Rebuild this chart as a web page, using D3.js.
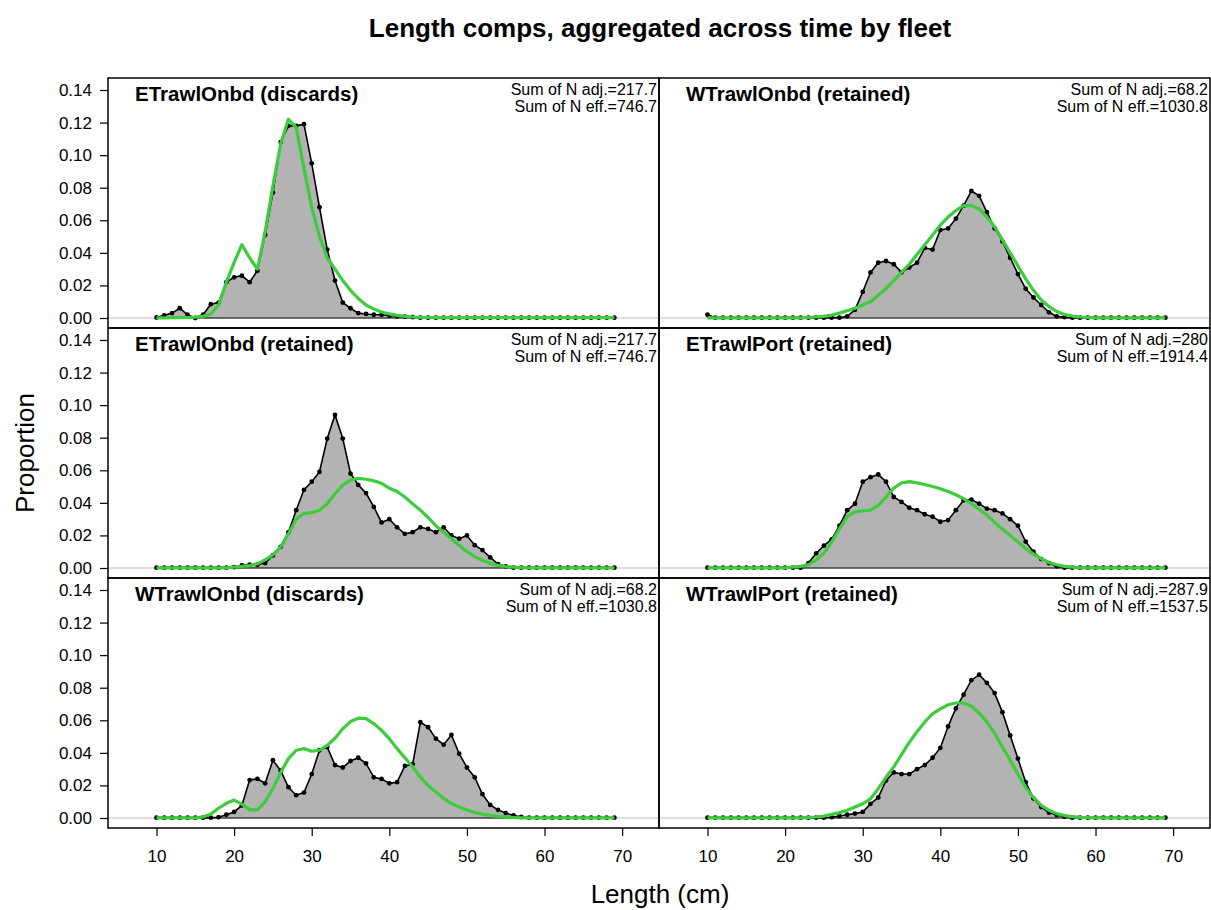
<!DOCTYPE html>
<html><head><meta charset="utf-8">
<script src="https://cdn.jsdelivr.net/npm/d3@7"></script>
<style>
body{margin:0;background:#fff;}
text{font-family:"Liberation Sans",Arial,sans-serif;fill:#000;}
</style></head>
<body>
<svg id="chart" width="1211" height="910"></svg>
<script>
const lengths = [10,11,12,13,14,15,16,17,18,19,20,21,22,23,24,25,26,27,28,29,30,31,32,33,34,35,36,37,38,39,40,41,42,43,44,45,46,47,48,49,50,51,52,53,54,55,56,57,58,59,60,61,62,63,64,65,66,67,68,69];
const xTicks = [10,20,30,40,50,60,70];
const yTicks = [0,0.02,0.04,0.06,0.08,0.10,0.12,0.14];
const fleets = ["ETrawlOnbd (discards)","WTrawlOnbd (retained)","ETrawlOnbd (retained)","ETrawlPort (retained)","WTrawlOnbd (discards)","WTrawlPort (retained)"];
const nAdj = ["217.7","68.2","217.7","280","68.2","287.9"];
const nEff = ["746.7","1030.8","746.7","1914.4","1030.8","1537.5"];

const obsETrawlOnbdDisc = [0.0003,0.0016,0.003,0.006,0.002,0.0,0.002,0.0085,0.0095,0.022,0.025,0.026,0.022,0.029,0.051,0.077,0.108,0.118,0.118,0.119,0.095,0.068,0.042,0.023,0.0095,0.006,0.003,0.0025,0.002,0.002,0.0015,0.001,0.0008,0.0005,
0.0002,0.0002,0.0002,0.0002,0.0002,0.0002,0.0002,0.0002,0.0002,0.0002,0.0002,0.0002,0.0002,0.0002,0.0002,0.0002,0.0002,0.0002,0.0002,0.0002,0.0002,0.0002,0.0002,0.0002,0.0002,0.0002];
const expETrawlOnbdDisc = [0.0001,0.0001,0.0002,0.0002,0.0003,0.0005,0.001,0.0025,0.008,0.022,0.034,0.045,0.037,0.030,0.053,0.081,0.107,0.122,0.117,0.092,0.068,0.050,0.037,0.030,0.023,0.017,0.012,0.008,0.0055,0.0037,0.0025,0.0016,0.001,0.0006,0.0004,0.0003,
0.0002,0.0002,0.0002,0.0002,0.0002,0.0002,0.0002,0.0002,0.0002,0.0002,0.0002,0.0002,0.0002,0.0002,0.0002,0.0002,0.0002,0.0002,0.0002,0.0002,0.0002,0.0002,0.0002,0.0002];

const obsWTrawlOnbdRet = [0.002,0.0002,0.0002,0.0002,0.0002,0.0002,0.0002,0.0002,0.0002,0.0002,0.0002,0.0002,0.0002,0.0002,0.0002,0.0002,0.0002,0.0002,
0.001,0.005,0.016,0.028,0.034,0.035,0.033,0.028,0.031,0.034,0.043,0.042,0.054,0.055,0.061,0.069,0.078,0.075,0.065,0.055,0.047,0.037,0.027,0.018,0.0126,0.008,0.0035,0.001,0.0005,
0.0002,0.0002,0.0002,0.0002,0.0002,0.0002,0.0002,0.0002,0.0002,0.0002,0.0002,0.0002,0.0002];
const expWTrawlOnbdRet = [0.0001,0.0001,0.0001,0.0001,0.0001,0.0001,0.0001,0.0001,0.0001,0.0001,0.0001,0.0001,0.0001,
0.0003,0.0006,0.001,0.0018,0.003,0.0045,0.006,0.008,0.010,0.014,0.018,0.023,0.028,0.033,0.039,0.045,0.051,0.057,0.062,0.066,0.069,0.069,0.067,0.062,0.056,0.048,0.040,0.032,0.024,0.017,0.011,0.007,0.004,0.0022,0.0012,0.0006,0.0003,
0.0001,0.0001,0.0001,0.0001,0.0001,0.0001,0.0001,0.0001,0.0001,0.0001];

const obsETrawlOnbdRet = [0.0002,0.0002,0.0002,0.0002,0.0002,0.0002,0.0002,0.0002,0.0002,0.0002,
0.0005,0.0016,0.002,0.002,0.003,0.0077,0.013,0.022,0.0355,0.048,0.053,0.059,0.0795,0.094,0.0795,0.058,0.051,0.046,0.0375,0.028,0.030,0.025,0.021,0.022,0.025,0.024,0.022,0.025,0.020,0.018,0.020,0.014,0.011,0.0065,0.0024,0.001,
0.0002,0.0002,0.0002,0.0002,0.0002,0.0002,0.0002,0.0002,0.0002,0.0002,0.0002,0.0002,0.0002,0.0002];
const expETrawlOnbdRet = [0.0001,0.0001,0.0001,0.0001,0.0001,0.0001,0.0001,0.0001,0.0001,0.0001,
0.0005,0.001,0.0015,0.0025,0.005,0.008,0.013,0.021,0.030,0.0335,0.034,0.0355,0.0395,0.0456,0.051,0.054,0.055,0.0545,0.0535,0.052,0.049,0.047,0.0436,0.0395,0.0355,0.031,0.026,0.022,0.018,0.014,0.010,0.007,0.0047,0.0028,0.0016,0.0009,0.0005,0.0002,
0.0001,0.0001,0.0001,0.0001,0.0001,0.0001,0.0001,0.0001,0.0001,0.0001,0.0001,0.0001];

const obsETrawlPortRet = [0.0002,0.0002,0.0002,0.0002,0.0002,0.0002,0.0002,0.0002,0.0002,0.0002,0.0002,0.0002,0.0002,
0.003,0.009,0.0138,0.0176,0.026,0.0355,0.0395,0.053,0.0558,0.0574,0.053,0.0436,0.0406,0.037,0.0355,0.033,0.0315,0.0284,0.0294,0.0355,0.0416,0.042,0.0395,0.0365,0.0355,0.0335,0.030,0.026,0.0162,0.010,0.0055,0.003,0.001,
0.0002,0.0002,0.0002,0.0002,0.0002,0.0002,0.0002,0.0002,0.0002,0.0002,0.0002,0.0002,0.0002,0.0002];
const expETrawlPortRet = [0.0001,0.0001,0.0001,0.0001,0.0001,0.0001,0.0001,0.0001,0.0001,0.0001,0.0001,
0.0005,0.001,0.002,0.005,0.009,0.016,0.024,0.0315,0.0345,0.035,0.0355,0.0385,0.0436,0.049,0.0523,0.053,0.0523,0.0513,0.050,0.0487,0.047,0.045,0.0426,0.0395,0.036,0.0325,0.028,0.024,0.020,0.016,0.012,0.0085,0.0057,0.0034,0.002,0.001,0.0005,
0.0001,0.0001,0.0001,0.0001,0.0001,0.0001,0.0001,0.0001,0.0001,0.0001,0.0001,0.0001];

const obsWTrawlOnbdDisc = [0.0002,0.0002,0.0002,0.0002,0.0002,0.0002,0.0002,0.0002,
0.0005,0.002,0.0037,0.0077,0.0233,0.024,0.0213,0.0355,0.029,0.0189,0.014,0.0156,0.027,0.0416,0.0436,0.0325,0.031,0.035,0.037,0.0335,0.025,0.024,0.0213,0.022,0.032,0.033,0.0588,0.0558,0.0487,0.045,0.051,0.0395,0.031,0.025,0.0146,0.008,0.005,0.003,0.0016,0.0006,
0.0002,0.0002,0.0002,0.0002,0.0002,0.0002,0.0002,0.0002,0.0002,0.0002,0.0002,0.0002];
const expWTrawlOnbdDisc = [0.0001,0.0001,0.0001,0.0001,0.0001,0.0001,
0.0006,0.0024,0.006,0.009,0.011,0.0085,0.005,0.005,0.010,0.018,0.028,0.0365,0.0416,0.0426,0.041,0.0416,0.0446,0.049,0.0548,0.0592,0.0613,0.061,0.058,0.0538,0.0487,0.0426,0.037,0.0315,0.025,0.020,0.016,0.012,0.009,0.0067,0.0049,0.0034,0.0024,0.0016,0.001,0.0006,0.0003,
0.0001,0.0001,0.0001,0.0001,0.0001,0.0001,0.0001,0.0001,0.0001,0.0001,0.0001,0.0001,0.0001];

const obsWTrawlPortRet = [0.0002,0.0002,0.0002,0.0002,0.0002,0.0002,0.0002,0.0002,0.0002,0.0002,0.0002,0.0002,0.0002,0.0002,0.0002,0.0002,
0.0005,0.0012,0.002,0.0027,0.0037,0.0087,0.0126,0.023,0.028,0.027,0.027,0.030,0.0325,0.037,0.043,0.0562,0.0673,0.0757,0.0846,0.088,0.083,0.0767,0.065,0.0507,0.0365,0.022,0.012,0.0067,0.0033,0.0018,0.0008,
0.0002,0.0002,0.0002,0.0002,0.0002,0.0002,0.0002,0.0002,0.0002,0.0002,0.0002,0.0002,0.0002];
const expWTrawlPortRet = [0.0001,0.0001,0.0001,0.0001,0.0001,0.0001,0.0001,0.0001,0.0001,0.0001,0.0001,0.0001,0.0001,
0.0003,0.0006,0.0012,0.0022,0.0033,0.0047,0.0067,0.0087,0.0118,0.018,0.025,0.0314,0.0389,0.0464,0.053,0.059,0.064,0.067,0.0695,0.0706,0.0706,0.0686,0.0645,0.059,0.052,0.0436,0.0355,0.027,0.0188,0.0126,0.0077,0.0047,0.0027,0.0015,0.0008,0.0004,0.0002,
0.0001,0.0001,0.0001,0.0001,0.0001,0.0001,0.0001,0.0001,0.0001,0.0001];

const obsList = [obsETrawlOnbdDisc, obsWTrawlOnbdRet, obsETrawlOnbdRet, obsETrawlPortRet, obsWTrawlOnbdDisc, obsWTrawlPortRet];
const expList = [expETrawlOnbdDisc, expWTrawlOnbdRet, expETrawlOnbdRet, expETrawlPortRet, expWTrawlOnbdDisc, expWTrawlPortRet];

const svg = d3.select("#chart");
const plotLeft = 108, plotRight = 1210, plotTop = 78, rowH = 250;
const colW = (plotRight - plotLeft) / 2;
const xDomain = [3.75, 74.75];

svg.append("text").attr("x", 660).attr("y", 37).attr("text-anchor", "middle")
  .style("font-size", "26px").style("font-weight", "bold")
  .text("Length comps, aggregated across time by fleet");
svg.append("text").attr("transform", "translate(34,453) rotate(-90)").attr("text-anchor", "middle")
  .style("font-size", "26px").text("Proportion");
svg.append("text").attr("x", 660).attr("y", 903).attr("text-anchor", "middle")
  .style("font-size", "26px").text("Length (cm)");

fleets.forEach((name, i) => {
  const col = i % 2, row = Math.floor(i / 2);
  const x0 = plotLeft + col * colW, y0 = plotTop + row * rowH;
  const x = d3.scaleLinear().domain(xDomain).range([x0, x0 + colW]);
  const y = d3.scaleLinear().domain([0, 0.14]).range([y0 + 240, y0 + 12]);
  const data = lengths.map((L, k) => ({L, o: obsList[i][k], e: expList[i][k]}));
  const g = svg.append("g");

  const area = d3.area().x(d => x(d.L)).y0(y(0)).y1(d => y(d.o));
  g.append("path").datum(data).attr("d", area).attr("fill", "#b3b3b3").attr("stroke", "none");
  g.append("line").attr("x1", x0).attr("x2", x0 + colW).attr("y1", y(0)).attr("y2", y(0))
    .attr("stroke", "#bdbdbd").attr("stroke-width", 1.2);
  g.append("line").attr("x1", x(lengths[0])).attr("x2", x(lengths[lengths.length-1])).attr("y1", y(0)).attr("y2", y(0))
    .attr("stroke", "#000").attr("stroke-width", 1.2);
  const lineO = d3.line().x(d => x(d.L)).y(d => y(d.o));
  g.append("path").datum(data).attr("d", lineO).attr("fill", "none").attr("stroke", "#000").attr("stroke-width", 1.6);
  g.selectAll("circle").data(data).join("circle")
    .attr("cx", d => x(d.L)).attr("cy", d => y(d.o)).attr("r", 2.4).attr("fill", "#000");
  const lineE = d3.line().x(d => x(d.L)).y(d => y(d.e));
  g.append("path").datum(data).attr("d", lineE).attr("fill", "none").attr("stroke", "#3ccc3c")
    .attr("stroke-width", 3.2).attr("stroke-linejoin", "round");

  g.append("rect").attr("x", x0).attr("y", y0).attr("width", colW).attr("height", rowH)
    .attr("fill", "none").attr("stroke", "#000").attr("stroke-width", 1.5);

  g.append("text").attr("x", x0 + 27).attr("y", y0 + 23).style("font-size", "20.5px").style("font-weight", "bold").text(name);
  g.append("text").attr("x", x0 + colW - 2).attr("y", y0 + 17).attr("text-anchor", "end").style("font-size", "16px").text("Sum of N adj.=" + nAdj[i]);
  g.append("text").attr("x", x0 + colW - 2).attr("y", y0 + 34).attr("text-anchor", "end").style("font-size", "16px").text("Sum of N eff.=" + nEff[i]);

  if (col === 0) {
    const ax = svg.append("g").attr("transform", `translate(${x0},0)`)
      .call(d3.axisLeft(y).tickValues(yTicks).tickSize(8).tickPadding(8).tickFormat(d3.format(".2f")));
    ax.select(".domain").remove();
    ax.selectAll("text").style("font-size", "17px").attr("font-family", null);
    ax.selectAll("line").attr("stroke-width", 1.2);
  }
  if (row === 2) {
    const ax = svg.append("g").attr("transform", `translate(0,${y0 + rowH})`)
      .call(d3.axisBottom(x).tickValues(xTicks).tickSize(8).tickPadding(14).tickFormat(d3.format("d")));
    ax.select(".domain").remove();
    ax.selectAll("text").style("font-size", "17px").attr("font-family", null);
    ax.selectAll("line").attr("stroke-width", 1.2);
  }
});
</script>
</body></html>
